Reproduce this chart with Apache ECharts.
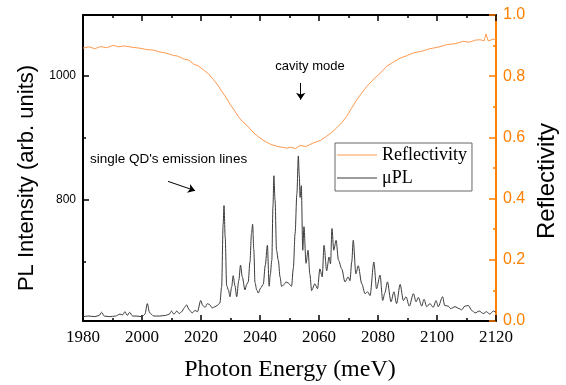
<!DOCTYPE html>
<html>
<head>
<meta charset="utf-8">
<script src="https://cdn.jsdelivr.net/npm/echarts@6/dist/echarts.min.js"></script>
<style>
  html, body {margin: 0; padding: 0; background: #fff;}
  #chart {width: 566px; height: 385px;}
</style>
</head>
<body>
<div id="chart"></div>
<script>
// photon energy (meV) and PL intensity (arb. units)
const plEnergy = [
  1980, 1982, 1984, 1985.5, 1986.3, 1987.2, 1989, 1991, 1992.5, 1993.5, 1994.2, 1995, 1995.8, 1996.8, 1998, 2000,
  2001, 2001.8, 2002.6, 2004, 2006, 2008, 2009.2, 2010, 2010.8, 2011.8, 2012.6, 2013.5, 2014.3, 2015.1, 2016, 2017,
  2018, 2018.8, 2019.9, 2020.6, 2021.4, 2022.2, 2023, 2023.8, 2024.7, 2025.5, 2026.4, 2027, 2027.5, 2027.8, 2028.2, 2028.7,
  2029.3, 2029.8, 2030.4, 2030.9, 2031.5, 2032.1, 2032.8, 2033.4, 2034, 2034.9, 2035.5, 2036, 2036.6, 2037.1, 2037.5, 2037.9,
  2038.3, 2038.9, 2039.4, 2040.2, 2041.1, 2041.8, 2042.5, 2043.1, 2043.5, 2044, 2044.4, 2044.7, 2045.1, 2045.6, 2046.2, 2046.8,
  2047.3, 2048, 2048.8, 2049.6, 2050.7, 2051.3, 2051.9, 2052.5, 2053, 2053.3, 2053.6, 2054, 2054.5, 2054.9, 2055.6, 2056.3,
  2056.9, 2057.5, 2058.6, 2059.5, 2060.3, 2061.1, 2061.7, 2062.6, 2063.4, 2063.9, 2064.4, 2065, 2065.8, 2066.6, 2067.7, 2068.8,
  2069.9, 2070.5, 2071.1, 2071.6, 2072.5, 2073.3, 2074.5, 2075.6, 2076.5, 2077.3, 2078.6, 2079.5, 2080.7, 2081.6, 2082.3, 2083.2,
  2084.4, 2085.4, 2086.3, 2087.5, 2088.6, 2089.5, 2090.6, 2092, 2092.9, 2093.7, 2094.8, 2095.6, 2096.5, 2097.6, 2098.7, 2099.7,
  2100.4, 2101.9, 2102.6, 2103.8, 2104.6, 2106.1, 2107.5, 2108.3, 2109.5, 2110.6, 2111.8, 2112.9, 2114.3, 2115.7, 2116.8, 2117.9,
  2119.1, 2120
];
const plIntensity = [
  612, 613, 612, 614, 619, 613, 612, 613, 616, 615, 620, 614, 619, 613, 613, 612,
  616, 633, 618, 613, 613, 614, 616, 621, 616, 621, 617, 620, 626, 631, 623, 618,
  622, 620, 638, 630, 627, 633, 631, 626, 628, 630, 634, 660, 760, 791, 740, 662,
  655, 644, 660, 678, 662, 644, 670, 695, 676, 655, 664, 668, 700, 745, 761, 720,
  667, 655, 650, 658, 664, 695, 727, 661, 680, 703, 790, 839, 800, 719, 703, 676,
  661, 663, 668, 666, 661, 690, 746, 810, 871, 840, 804, 823, 719, 757, 698, 719,
  680, 654, 665, 657, 689, 676, 727, 686, 708, 697, 754, 719, 735, 703, 689, 668,
  676, 670, 700, 735, 681, 694, 665, 649, 652, 646, 700, 657, 679, 638, 650, 668,
  636, 652, 633, 664, 638, 644, 629, 649, 636, 643, 629, 640, 628, 633, 627, 638,
  628, 644, 630, 629, 625, 628, 625, 623, 629, 630, 622, 618, 621, 617, 620, 616,
  621, 619
];

// reflectivity spectrum
const reflEnergy = [
  1980, 1982, 1984, 1986, 1988, 1990.3, 1992, 1994, 1997, 1999, 2001.6, 2004, 2006.1, 2008, 2010.6, 2012,
  2014, 2016, 2017.4, 2019, 2020.8, 2022.5, 2024.2, 2025.6, 2027, 2028.4, 2029.8, 2031.2, 2032.6, 2034, 2035.5, 2037,
  2038.3, 2040, 2041.7, 2043.5, 2045.7, 2047.3, 2049, 2050.5, 2052, 2053.6, 2055.5, 2058.1, 2060.5, 2062.6, 2064.3, 2066,
  2067.7, 2069.4, 2071, 2072.8, 2074.5, 2076.2, 2078, 2079.6, 2081.2, 2082.9, 2085, 2087.5, 2090, 2092, 2095, 2097.6,
  2100, 2103.3, 2106, 2108.9, 2111, 2113, 2114.6, 2116, 2116.6, 2117.4, 2119, 2120
];
const reflValue = [
  0.892, 0.896, 0.890, 0.897, 0.893, 0.901, 0.896, 0.899, 0.894, 0.892, 0.887, 0.885, 0.879, 0.876, 0.868, 0.866,
  0.857, 0.852, 0.840, 0.834, 0.821, 0.808, 0.789, 0.772, 0.751, 0.732, 0.709, 0.690, 0.669, 0.652, 0.640, 0.624,
  0.611, 0.598, 0.587, 0.578, 0.571, 0.568, 0.565, 0.568, 0.563, 0.574, 0.570, 0.582, 0.590, 0.604, 0.616, 0.631,
  0.648, 0.669, 0.695, 0.723, 0.745, 0.767, 0.785, 0.800, 0.814, 0.832, 0.845, 0.859, 0.868, 0.876, 0.882, 0.890,
  0.894, 0.903, 0.906, 0.914, 0.911, 0.918, 0.919, 0.916, 0.938, 0.915, 0.921, 0.919
];

// axis ticks
const xTicks = [1980, 2000, 2020, 2040, 2060, 2080, 2100, 2120];
const plMajorTicks = [800, 1000];
const plMinorTicks = [700, 900];

const serif = 'Liberation Serif';
const sans = 'Liberation Sans';
const orange = '#ff8000';

const zip = (xs, ys) => xs.map((x, i) => [x, ys[i]]);

const chart = echarts.init(document.getElementById('chart'));

const xAxisBase = {
    type: 'value',
    min: 1980,
    max: 2120,
    interval: 20,
    splitLine: {show: false},
    axisLine: {onZero: false, lineStyle: {color: '#000', width: 2}},
    axisTick: {inside: true, length: 6, lineStyle: {color: '#000', width: 1.5}},
    minorTick: {show: true, splitNumber: 2, length: 3, lineStyle: {color: '#000', width: 1.5}}
};

chart.setOption({
    animation: false,
    backgroundColor: '#fff',
    grid: {left: 83, right: 70, top: 15, bottom: 64},
    legend: {
        orient: 'vertical',
        left: 335,
        top: 143,
        data: ['Reflectivity', 'μPL'],
        icon: 'rect',
        itemWidth: 40,
        itemHeight: 1,
        itemGap: 5,
        padding: [3, 5, 4, 2],
        borderColor: '#666',
        borderWidth: 1,
        textStyle: {fontFamily: serif, fontSize: 18, color: '#000', lineHeight: 18}
    },
    xAxis: [
        Object.assign({}, xAxisBase, {
            position: 'bottom',
            axisLabel: {
                show: true,
                customValues: xTicks,
                margin: 8,
                fontFamily: serif,
                fontSize: 17,
                color: '#000',
                formatter: v => String(v)
            }
        }),
        Object.assign({}, xAxisBase, {
            position: 'top',
            axisLabel: {show: false}
        })
    ],
    yAxis: [
        {
            type: 'value',
            position: 'left',
            min: 605,
            max: 1098,
            splitLine: {show: false},
            axisLine: {onZero: false, lineStyle: {color: '#000', width: 2}},
            axisTick: {inside: true, length: 6, customValues: plMajorTicks, lineStyle: {color: '#000', width: 1.5}},
            axisLabel: {
                customValues: plMajorTicks, margin: 7, fontFamily: sans, fontSize: 12, color: '#000',
                formatter: v => String(v)
            }
        },
        {
            type: 'value',
            position: 'right',
            min: 0,
            max: 1,
            interval: 0.2,
            splitLine: {show: false},
            axisLine: {onZero: false, lineStyle: {color: orange, width: 2}},
            axisTick: {inside: true, length: 7, lineStyle: {color: orange, width: 1.5}},
            minorTick: {show: true, splitNumber: 2, length: 3, lineStyle: {color: orange, width: 1.5}},
            axisLabel: {
                margin: 7,
                fontFamily: sans,
                fontSize: 16,
                color: orange,
                formatter: v => v.toFixed(1)
            }
        },
        {
            // minor ticks of the PL axis
            type: 'value',
            position: 'left',
            min: 605,
            max: 1098,
            splitLine: {show: false},
            axisLine: {show: false},
            axisTick: {inside: true, length: 3, customValues: plMinorTicks, lineStyle: {color: '#000', width: 1.5}},
            axisLabel: {show: false}
        }
    ],
    series: [
        {
            name: 'Reflectivity',
            type: 'line',
            xAxisIndex: 0,
            yAxisIndex: 1,
            symbol: 'none',
            data: zip(reflEnergy, reflValue),
            itemStyle: {color: '#ff9a50'},
            lineStyle: {color: '#ff9a50', width: 1},
            markLine: {
                silent: true,
                symbol: ['none', 'arrow'],
                symbolSize: 7,
                label: {show: false},
                lineStyle: {color: '#000', width: 1, type: 'solid'},
                data: [[{coord: [2053.8, 0.778]}, {coord: [2053.8, 0.723]}]]
            }
        },
        {
            name: 'μPL',
            type: 'line',
            xAxisIndex: 0,
            yAxisIndex: 0,
            symbol: 'none',
            smooth: 0.3,
            smoothMonotone: 'x',
            data: zip(plEnergy, plIntensity),
            itemStyle: {color: '#3a3a3a'},
            lineStyle: {color: '#3a3a3a', width: 1},
            markLine: {
                silent: true,
                symbol: ['none', 'arrow'],
                symbolSize: 7,
                label: {show: false},
                lineStyle: {color: '#000', width: 1, type: 'solid'},
                data: [[{coord: [2008.8, 830]}, {coord: [2018, 815]}]]
            }
        }
    ],
    graphic: [
        {
            type: 'text', x: 310, y: 66,
            style: {text: 'cavity mode', font: '13px "Liberation Sans"', fill: '#000', align: 'center', verticalAlign: 'middle'}
        },
        {
            type: 'text', x: 90, y: 159,
            style: {text: "single QD's emission lines", font: '13.5px "Liberation Sans"', fill: '#000', align: 'left', verticalAlign: 'middle'}
        },
        {
            type: 'text', x: 27, y: 178, rotation: Math.PI / 2,
            style: {text: 'PL Intensity (arb. units)', font: '22px "Liberation Sans"', fill: '#000', align: 'center', verticalAlign: 'middle'}
        },
        {
            type: 'text', x: 547, y: 181, rotation: Math.PI / 2,
            style: {text: 'Reflectivity', font: '24px "Liberation Sans"', fill: '#000', align: 'center', verticalAlign: 'middle'}
        },
        {
            type: 'text', x: 290, y: 370,
            style: {text: 'Photon Energy (meV)', font: '24px "Liberation Serif"', fill: '#000', align: 'center', verticalAlign: 'middle'}
        }
    ]
});
</script>
</body>
</html>
